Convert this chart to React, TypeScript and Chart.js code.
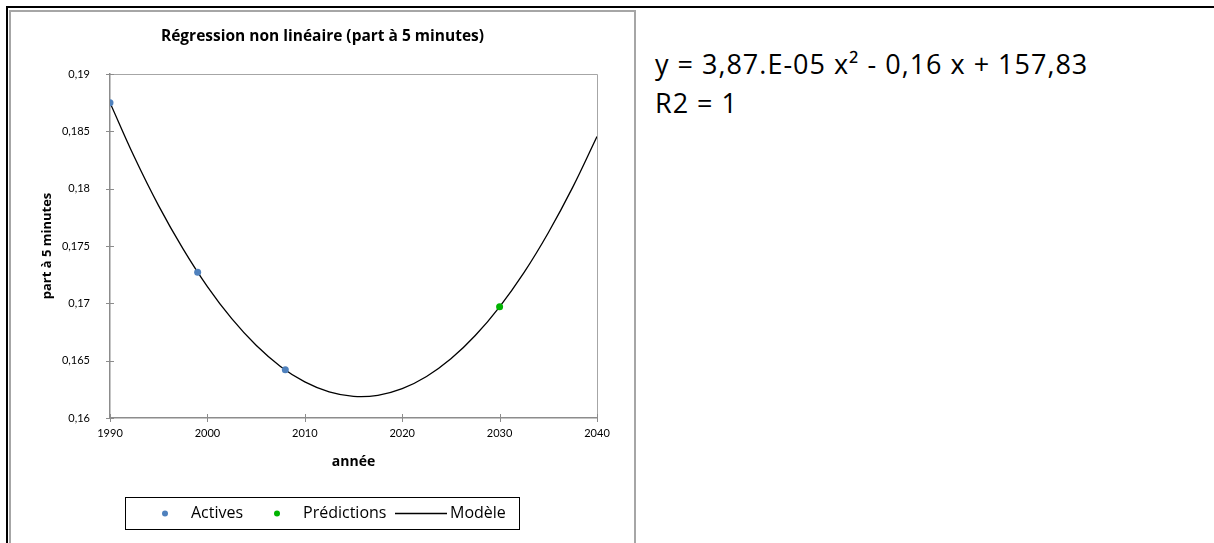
import { useEffect, useRef } from 'react';
import { Chart, registerables } from 'chart.js';

Chart.register(...registerables);

const chartTitle = 'Régression non linéaire (part à 5 minutes)';
const xTitle = 'année';
const yTitle = 'part à 5 minutes';

const activeYears = [1990, 1999, 2008];
const activeValues = [0.1875, 0.1727, 0.1642];

const predictionYears = [2030];
const predictionValues = [0.1697];

const modelYears = [
  1990, 1992.5, 1995, 1997.5, 2000, 2002.5, 2005, 2007.5, 2010, 2012.5, 2015, 2017.5, 2020, 2022.5, 2025, 2027.5, 2030,
  2032.5, 2035, 2037.5, 2040,
];
const modelValues = [
  0.1875, 0.18276, 0.1785, 0.17475, 0.17146, 0.16866, 0.16634, 0.1645, 0.16315, 0.16228, 0.16189, 0.16198, 0.16256,
  0.16362, 0.16516, 0.16719, 0.1697, 0.17268, 0.17616, 0.18011, 0.18455,
];

const seriesLabels = ['Actives', 'Prédictions', 'Modèle'];
const seriesColors = ['#4f81bd', '#00b400', '#000000'];

const xMin = 1990;
const xMax = 2040;
const xStep = 10;
const yMin = 0.16;
const yMax = 0.19;
const yStep = 0.005;

const equationLines = ['y = 3,87.E-05 x² - 0,16 x + 157,83', 'R2 = 1'];

const FONT = '"Open Sans", Lato, sans-serif';
const TICK_FONT = 'Lato, "Open Sans", sans-serif';

const toPts = (xs: number[], ys: number[]) => xs.map((x, i) => ({ x, y: ys[i] }));

const frameAndTicks = {
  id: 'frameAndTicks',
  beforeDatasetsDraw(chart: any) {
    const { ctx, chartArea } = chart;
    ctx.save();
    ctx.strokeStyle = '#a6a6a6';
    ctx.lineWidth = 1;
    ctx.beginPath();
    ctx.moveTo(chartArea.left, chartArea.top + 0.5);
    ctx.lineTo(chartArea.right + 0.5, chartArea.top + 0.5);
    ctx.lineTo(chartArea.right + 0.5, chartArea.bottom);
    ctx.stroke();
    ctx.strokeStyle = '#8c8c8c';
    const xs = chart.scales.x;
    const ys = chart.scales.y;
    ctx.beginPath();
    xs.ticks.forEach((t: any) => {
      const px = Math.round(xs.getPixelForValue(t.value)) + 0.5;
      ctx.moveTo(px, chartArea.bottom - 4);
      ctx.lineTo(px, chartArea.bottom + 4);
    });
    ys.ticks.forEach((t: any) => {
      const py = Math.round(ys.getPixelForValue(t.value)) + 0.5;
      ctx.moveTo(chartArea.left - 4, py);
      ctx.lineTo(chartArea.left + 4, py);
    });
    ctx.stroke();
    ctx.restore();
  },
};

const boxedLegend = {
  id: 'boxedLegend',
  afterDraw(chart: any) {
    const { ctx } = chart;
    const boxX = 114.5;
    const boxY = 485.5;
    const boxW = 394;
    const boxH = 32;
    const cy = boxY + boxH / 2;
    ctx.save();
    ctx.strokeStyle = '#000';
    ctx.lineWidth = 1;
    ctx.strokeRect(boxX, boxY, boxW, boxH);
    ctx.font = `16px ${FONT}`;
    ctx.textBaseline = 'middle';
    ctx.fillStyle = '#000';
    ctx.beginPath();
    ctx.fillStyle = seriesColors[0];
    ctx.arc(154, cy, 3, 0, Math.PI * 2);
    ctx.fill();
    ctx.fillStyle = '#000';
    ctx.fillText(seriesLabels[0], 180, cy);
    ctx.beginPath();
    ctx.fillStyle = seriesColors[1];
    ctx.arc(266, cy, 3, 0, Math.PI * 2);
    ctx.fill();
    ctx.fillStyle = '#000';
    ctx.fillText(seriesLabels[1], 292, cy);
    ctx.beginPath();
    ctx.strokeStyle = seriesColors[2];
    ctx.lineWidth = 1.5;
    ctx.moveTo(384, cy);
    ctx.lineTo(436, cy);
    ctx.stroke();
    ctx.fillText(seriesLabels[2], 439, cy);
    ctx.restore();
  },
};

function ChartBox() {
  const ref = useRef<HTMLCanvasElement>(null);
  useEffect(() => {
    if (!ref.current) return;
    const chart = new Chart(ref.current, {
      type: 'scatter',
      data: {
        datasets: [
          {
            label: seriesLabels[0],
            data: toPts(activeYears, activeValues),
            backgroundColor: seriesColors[0],
            borderColor: seriesColors[0],
            pointRadius: 3.5,
            pointBorderWidth: 0,
            showLine: false,
          },
          {
            label: seriesLabels[1],
            data: toPts(predictionYears, predictionValues),
            backgroundColor: seriesColors[1],
            borderColor: seriesColors[1],
            pointRadius: 3.5,
            pointBorderWidth: 0,
            showLine: false,
          },
          {
            label: seriesLabels[2],
            data: toPts(modelYears, modelValues),
            borderColor: seriesColors[2],
            backgroundColor: seriesColors[2],
            borderWidth: 1.3,
            pointRadius: 0,
            showLine: true,
            tension: 0.4,
          },
        ],
      },
      options: {
        animation: false,
        responsive: false,
        layout: { padding: { left: 0, right: 0, top: 0, bottom: 55 } },
        plugins: {
          legend: { display: false },
          tooltip: { enabled: false },
          title: {
            display: true,
            text: chartTitle,
            color: '#000',
            font: { family: FONT, size: 15.5, weight: 'bold' },
            padding: { top: 15.7, bottom: 27.7 },
          },
        },
        scales: {
          x: {
            type: 'linear',
            min: xMin,
            max: xMax,
            ticks: {
              stepSize: xStep,
              callback: (v: any) => String(v),
              color: '#000',
              font: { family: TICK_FONT, size: 11 },
              padding: 9,
              maxRotation: 0,
            },
            grid: { display: false, drawTicks: false },
            border: { color: '#8c8c8c', width: 1.5 },
            title: {
              display: true,
              text: xTitle,
              color: '#000',
              font: { family: FONT, size: 14, weight: 'bold' },
              padding: { top: 0, bottom: 17.6 },
            },
            afterFit: (s: any) => {
              s.height = 70;
            },
          },
          y: {
            type: 'linear',
            min: yMin,
            max: yMax,
            ticks: {
              stepSize: yStep,
              callback: (v: any) => String(Number(Number(v).toFixed(3))).replace('.', ','),
              color: '#000',
              font: { family: TICK_FONT, size: 11 },
              padding: 20,
            },
            grid: { display: false, drawTicks: false },
            border: { color: '#8c8c8c', width: 1.5 },
            title: {
              display: true,
              text: yTitle,
              color: '#000',
              font: { family: FONT, size: 13, weight: 'bold' },
              padding: { top: 28, bottom: 0 },
            },
            afterFit: (s: any) => {
              s.width = 99;
            },
          },
          yRight: {
            type: 'linear',
            position: 'right',
            display: true,
            ticks: { display: false },
            grid: { display: false, drawTicks: false },
            border: { display: false },
            afterFit: (s: any) => {
              s.width = 37;
            },
          },
        },
      },
      plugins: [frameAndTicks, boxedLegend],
    } as any);
    return () => chart.destroy();
  }, []);
  return <canvas ref={ref} width={623} height={531} style={{ position: 'absolute', left: 11, top: 12, width: 623, height: 531 }} />;
}

export default function App() {
  return (
    <div style={{ position: 'absolute', left: 0, top: 0, width: 1214, height: 543, background: '#fff', overflow: 'hidden' }}>
      <div style={{ position: 'absolute', left: 6, top: 6, width: 1208, height: 2, background: '#000' }} />
      <div style={{ position: 'absolute', left: 6, top: 6, width: 2, height: 537, background: '#000' }} />
      <div
        style={{
          position: 'absolute',
          left: 9,
          top: 10,
          width: 623,
          height: 560,
          borderLeft: '2px solid #a6a6a6',
          borderTop: '2px solid #a6a6a6',
          borderRight: '2px solid #a6a6a6',
        }}
      />
      <ChartBox />
      <div
        style={{
          position: 'absolute',
          left: 655,
          top: 44,
          fontFamily: FONT,
          fontSize: 27,
          letterSpacing: 1,
          lineHeight: '39px',
          color: '#000',
          whiteSpace: 'pre',
        }}
      >
        {equationLines.map((l, i) => (
          <div key={i}>{l}</div>
        ))}
      </div>
    </div>
  );
}
